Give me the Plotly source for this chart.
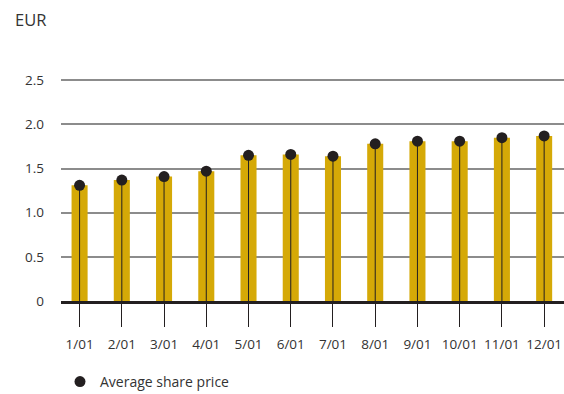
import plotly.graph_objects as go

categories = ["1/01", "2/01", "3/01", "4/01", "5/01", "6/01", "7/01", "8/01", "9/01", "10/01", "11/01", "12/01"]
share_price = [1.31, 1.37, 1.41, 1.47, 1.65, 1.66, 1.64, 1.78, 1.81, 1.81, 1.85, 1.87]
y_ticks = [0, 0.5, 1.0, 1.5, 2.0, 2.5]
y_tick_labels = ["0", "0.5", "1.0", "1.5", "2.0", "2.5"]

FONT = "Open Sans"
GOLD = "#D5A907"
DARK = "#231F20"
TEXT = "#333333"

fig = go.Figure()

fig.add_trace(go.Bar(
    x=categories, y=share_price, width=0.38,
    marker=dict(color=GOLD, line=dict(width=0)),
    showlegend=False, hoverinfo="skip",
))

# stems from zero to each dot
sx, sy = [], []
for c, v in zip(categories, share_price):
    sx += [c, c, None]
    sy += [0, v, None]
fig.add_trace(go.Scatter(
    x=sx, y=sy, mode="lines", line=dict(color=DARK, width=1),
    showlegend=False, hoverinfo="skip",
))

fig.add_trace(go.Scatter(
    x=categories, y=share_price, mode="markers",
    marker=dict(color=DARK, size=11),
    name="Average share price",
))

fig.add_annotation(
    text="EUR", xref="paper", yref="paper",
    x=(13 - 61) / 503, y=1 + (75 - 19) / 226, xanchor="left", yanchor="middle",
    showarrow=False, font=dict(family=FONT, size=16.5, color=TEXT),
)

fig.update_layout(
    width=564, height=394,
    margin=dict(l=61, r=0, t=75, b=93, autoexpand=False),
    paper_bgcolor="white", plot_bgcolor="white",
    font=dict(family=FONT, size=13.5, color=TEXT),
    showlegend=True,
    legend=dict(
        orientation="h", x=(60 - 61) / 503, y=-(382 - 301) / 226,
        xanchor="left", yanchor="middle",
        font=dict(family=FONT, size=14, color=TEXT),
        bgcolor="rgba(0,0,0,0)", itemwidth=30,
    ),
    xaxis=dict(
        type="category", range=[-0.44, 11.47],
        showgrid=False, zeroline=False,
        showline=True, linecolor=DARK, linewidth=2.5,
        ticks="outside", ticklen=23, tickcolor=DARK, tickwidth=1,
        ticklabelstandoff=6,
        tickfont=dict(family=FONT, size=13.5, color=TEXT),
        fixedrange=True,
    ),
    yaxis=dict(
        range=[0, 2.56],
        tickvals=y_ticks, ticktext=y_tick_labels,
        showgrid=True, gridcolor="#8C8C8C", gridwidth=1.5,
        zeroline=False, showline=False, ticks="",
        ticklabelstandoff=16,
        tickfont=dict(family=FONT, size=13.5, color=TEXT),
        fixedrange=True,
    ),
)

fig.write_html("out.html")
